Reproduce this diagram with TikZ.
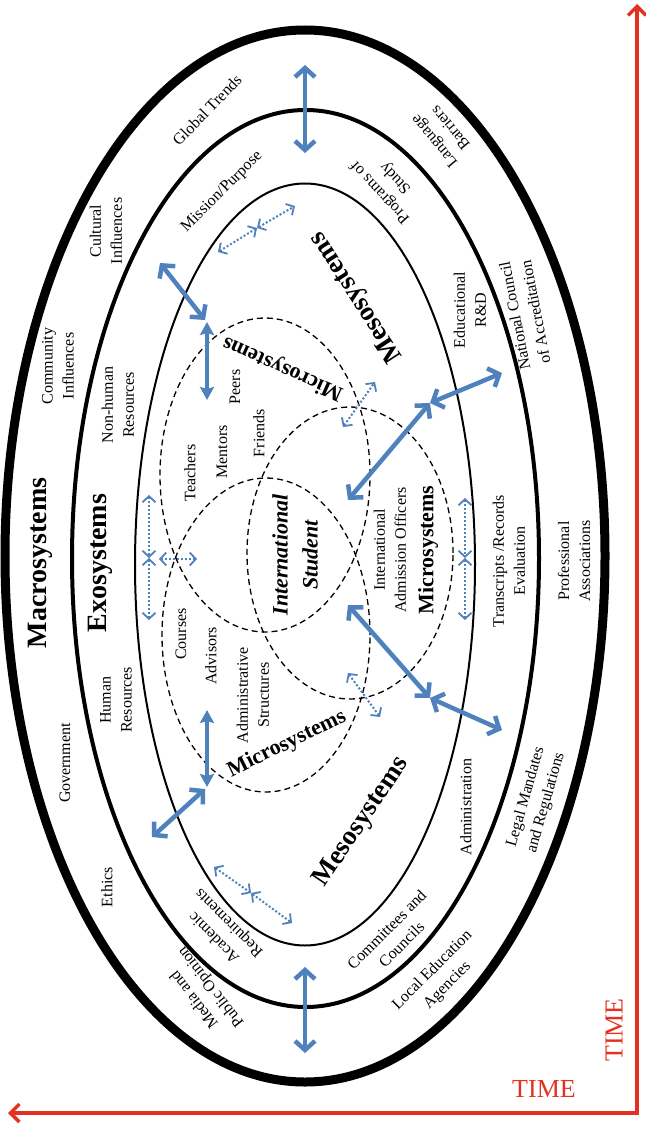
\documentclass[tikz,border=0pt]{standalone}
\usepackage{fontspec}
\setmainfont{Liberation Serif}
\usetikzlibrary{arrows.meta}
\definecolor{myblue}{HTML}{4F81BD}
\definecolor{myred}{HTML}{E2321F}
\begin{document}
\begin{tikzpicture}[x=1pt,y=-1pt,
  lbl/.style={font=\fontsize{16}{21}\selectfont, align=center, inner sep=0pt},
  bigsys/.style={font=\fontsize{28}{32}\selectfont\bfseries, inner sep=0pt},
  mesosys/.style={font=\fontsize{27}{30}\selectfont\bfseries, inner sep=0pt},
  microsys/.style={font=\fontsize{22}{26}\selectfont\bfseries, inner sep=0pt},
  student/.style={font=\fontsize{22}{30}\selectfont\bfseries\itshape, align=center, inner sep=0pt},
  timelbl/.style={font=\fontsize{26}{30}\selectfont, text=myred, inner sep=0pt},
  solidarr/.style={draw=myblue, line width=4.5pt,
     {Straight Barb[length=9pt,width=20pt]}-{Straight Barb[length=9pt,width=20pt]}},
  shortarr/.style={draw=myblue, line width=4.5pt,
     {Stealth[length=13pt,width=14pt,inset=2pt]}-{Stealth[length=13pt,width=14pt,inset=2pt]}},
  dotarr/.style={draw=myblue, line width=2pt, dash pattern=on 2pt off 2pt,
     {Straight Barb[length=6pt,width=13pt,line width=1.8pt]}-{Straight Barb[length=6pt,width=13pt,line width=1.8pt]}},
  microell/.style={draw=black, line width=1.3pt, dash pattern=on 6pt off 4pt},
  axis/.style={draw=myred, line width=3.5pt,
     {Straight Barb[length=9pt,width=18pt]}-{Straight Barb[length=9pt,width=18pt]}}
]
\useasboundingbox (0,0) rectangle (645,1129);

% system rings
\draw[line width=9pt] (305,556) ellipse [x radius=300pt, y radius=526pt];
\draw[line width=4pt] (305.5,558.5) ellipse [x radius=233.5pt, y radius=448.5pt];
\draw[line width=2pt] (305,564.5) ellipse [x radius=170pt, y radius=381pt];

% microsystem ellipses
\draw[microell] (265,475) ellipse [x radius=105pt, y radius=157pt];
\draw[microell] (266,635) ellipse [x radius=104pt, y radius=157pt];
\draw[microell] (350,553) ellipse [x radius=103pt, y radius=146pt];

% Macrosystem ring labels
\node[lbl, rotate=46] (gt) at (207,110) {Global Trends};
\node[lbl, rotate=130] (lb) at (442,135) {Language\\Barriers};
\node[lbl, rotate=90] (ci) at (106,231) {Cultural\\Influences};
\node[lbl, rotate=90] (comm) at (58,366) {Community\\Influences};
\node[bigsys, rotate=90] (macro) at (40,563) {Macrosystems};
\node[lbl, rotate=90] (gov) at (65,763) {Government};
\node[lbl, rotate=90] (eth) at (107,887) {Ethics};
\node[lbl, rotate=128] (media) at (203,993) {Media and\\Public Opinion};
\node[lbl, rotate=45] (lea) at (440,978) {Local Education\\Agencies};
\node[lbl, rotate=74] (legal) at (536,800) {Legal Mandates\\and Regulations};
\node[lbl, rotate=90] (prof) at (574,561) {Professional\\Associations};
\node[lbl, rotate=101] (nca) at (525,314) {National Council\\of Accreditation};

% Exosystem ring labels
\node[lbl, rotate=45] (mp) at (222,192) {Mission/Purpose};
\node[lbl, rotate=133] (pos) at (388,185) {Programs of\\Study};
\node[lbl, rotate=90] (erd) at (470,310) {Educational\\R\&D};
\node[lbl, rotate=90] (nhr) at (118,405) {Non-human\\Resources};
\node[bigsys, rotate=90] (exo) at (100,563) {Exosystems};
\node[lbl, rotate=90] (hr) at (116,700) {Human\\Resources};
\node[lbl, rotate=135] (ar) at (222,930) {Academic\\Requirements};
\node[lbl, rotate=45] (cc) at (394,937) {Committees and\\Councils};
\node[lbl, rotate=90] (adm) at (466,807) {Administration};
\node[lbl, rotate=90] (tre) at (509,561) {Transcripts /Records\\Evaluation};

% Mesosystem / microsystem labels
\node[mesosys, rotate=123] (meso1) at (357,297) {Mesosystems};
\node[mesosys, rotate=56] (meso2) at (362,822) {Mesosystems};
\node[microsys, rotate=156] (mic1) at (283,368) {Microsystems};
\node[microsys, rotate=90] (mic2) at (428,550) {Microsystems};
\node[microsys, rotate=26] (mic3) at (287,744) {Microsystems};
\node[lbl, rotate=90] (teach) at (190,473) {Teachers};
\node[lbl, rotate=90] (ment) at (222,452) {Mentors};
\node[lbl, rotate=90] (peer) at (235,387) {Peers};
\node[lbl, rotate=90] (frnd) at (259,433) {Friends};
\node[student, rotate=90] (stud) at (295,555) {International\\Student};
\node[lbl, rotate=90] (iao) at (390,550) {International\\Admission Officers};
\node[lbl, rotate=90] (crs) at (181,634) {Courses};
\node[lbl, rotate=90] (adv) at (211,656) {Advisors};
\node[lbl, rotate=90] (ads) at (253,695) {Administrative\\Structures};

% solid arrows
\coordinate (a1s) at (305,65);  \coordinate (a1e) at (305,153);
\coordinate (a2s) at (305,967); \coordinate (a2e) at (305,1053);
\coordinate (a3s) at (160,263); \coordinate (a3e) at (205,320);
\coordinate (a4s) at (207,322); \coordinate (a4e) at (207,400);
\coordinate (a5s) at (207,710); \coordinate (a5e) at (207,787);
\coordinate (a6s) at (205,789); \coordinate (a6e) at (152,837);
\coordinate (a7s) at (348,500); \coordinate (a7m) at (430,403); \coordinate (a7e) at (502,373);
\coordinate (a8s) at (348,605); \coordinate (a8m) at (430,698); \coordinate (a8e) at (502,730);
\draw[solidarr] (a1s) -- (a1e);
\draw[solidarr] (a2s) -- (a2e);
\draw[solidarr] (a3s) -- (a3e);
\draw[shortarr] (a4s) -- (a4e);
\draw[shortarr] (a5s) -- (a5e);
\draw[solidarr] (a6s) -- (a6e);
\draw[solidarr] (a7s) -- (a7m);
\draw[solidarr] (a7m) -- (a7e);
\draw[solidarr] (a8s) -- (a8m);
\draw[solidarr] (a8m) -- (a8e);

% dotted arrows
\coordinate (d1a) at (218,252); \coordinate (d1m) at (257,228); \coordinate (d1b) at (295,206);
\coordinate (d2a) at (149,495); \coordinate (d2m) at (149,558); \coordinate (d2b) at (149,620);
\coordinate (d3a) at (159,559); \coordinate (d3b) at (197,559);
\coordinate (d4a) at (465,498); \coordinate (d4m) at (465,558); \coordinate (d4b) at (465,620);
\coordinate (d5a) at (343,427); \coordinate (d5b) at (375,382);
\coordinate (d6a) at (348,673); \coordinate (d6b) at (380,717);
\coordinate (d7a) at (214,867); \coordinate (d7m) at (251,893); \coordinate (d7b) at (292,923);
\draw[dotarr] (d1a) -- (d1m);
\draw[dotarr] (d1m) -- (d1b);
\draw[dotarr] (d2a) -- (d2m);
\draw[dotarr] (d2m) -- (d2b);
\draw[dotarr] (d3a) -- (d3b);
\draw[dotarr] (d4a) -- (d4m);
\draw[dotarr] (d4m) -- (d4b);
\draw[dotarr] (d5a) -- (d5b);
\draw[dotarr] (d6a) -- (d6b);
\draw[dotarr] (d7a) -- (d7m);
\draw[dotarr] (d7m) -- (d7b);

% time axes
\coordinate (tt) at (637,4);
\coordinate (corner) at (637,1113);
\coordinate (lt) at (8,1113);
\draw[axis] (tt) -- (corner) -- (lt);
\node[timelbl] (time1) at (544,1089) {TIME};
\node[timelbl, rotate=90] (time2) at (614,1030) {TIME};
\end{tikzpicture}
\end{document}
